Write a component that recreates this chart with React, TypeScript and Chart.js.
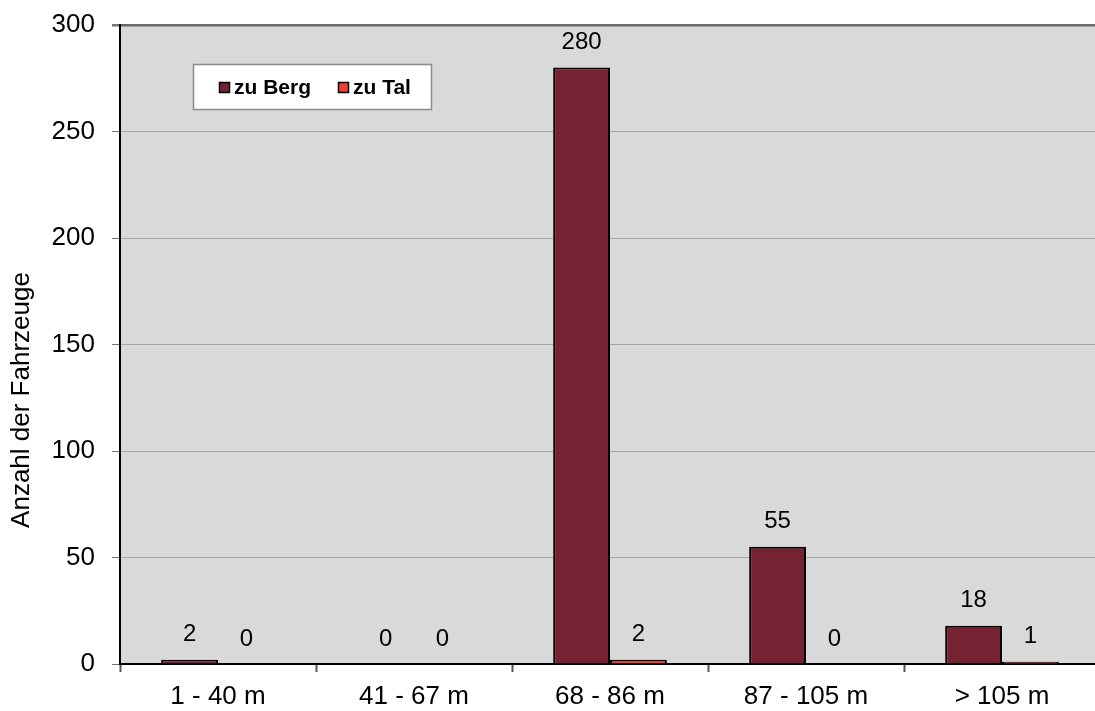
import React, { useEffect, useRef } from "react";
import { Chart, registerables } from "chart.js";

Chart.register(...registerables);

const categories = ["1 - 40 m", "41 - 67 m", "68 - 86 m", "87 - 105 m", "> 105 m"];
const zuBerg = [2, 0, 280, 55, 18];
const zuTal = [0, 0, 2, 0, 1];
const yTicks = [0, 50, 100, 150, 200, 250, 300];

const FONT = '"Liberation Sans", Arial, sans-serif';
const BERG_COLOR = "#762232";
const TAL_COLOR = "#EC4236";
const PLOT_BG = "#D9D9D9";

const plotBackground = {
  id: "plotBackground",
  beforeDraw(chart: any) {
    const { ctx, chartArea } = chart;
    ctx.save();
    ctx.fillStyle = PLOT_BG;
    ctx.fillRect(chartArea.left, chartArea.top, chartArea.right - chartArea.left, chartArea.bottom - chartArea.top);
    ctx.restore();
  },
};

const valueLabels = {
  id: "valueLabels",
  afterDatasetsDraw(chart: any) {
    const { ctx } = chart;
    ctx.save();
    ctx.font = `24px ${FONT}`;
    ctx.fillStyle = "#000";
    ctx.textAlign = "center";
    ctx.textBaseline = "middle";
    chart.data.datasets.forEach((ds: any, i: number) => {
      const meta = chart.getDatasetMeta(i);
      meta.data.forEach((el: any, j: number) => {
        ctx.fillText(String(ds.data[j]), el.x, el.y - 25);
      });
    });
    ctx.restore();
  },
};

const axisTitle = {
  id: "axisTitle",
  afterDraw(chart: any) {
    const { ctx } = chart;
    ctx.save();
    ctx.translate(22, 400);
    ctx.rotate(-Math.PI / 2);
    ctx.font = `26px ${FONT}`;
    ctx.fillStyle = "#000";
    ctx.textAlign = "center";
    ctx.textBaseline = "middle";
    ctx.fillText("Anzahl der Fahrzeuge", 0, 0);
    ctx.restore();
  },
};

const boxLegend = {
  id: "boxLegend",
  afterDraw(chart: any) {
    const { ctx } = chart;
    ctx.save();
    ctx.fillStyle = "#fff";
    ctx.fillRect(193, 64, 239, 46);
    ctx.strokeStyle = "#8a8a8a";
    ctx.lineWidth = 1.5;
    ctx.strokeRect(193.5, 64.5, 238, 45);
    const items = [
      { x: 219, color: BERG_COLOR },
      { x: 338, color: TAL_COLOR },
    ];
    ctx.font = `bold 21px ${FONT}`;
    ctx.textBaseline = "middle";
    ctx.textAlign = "left";
    chart.data.datasets.forEach((ds: any, i: number) => {
      const it = items[i];
      ctx.fillStyle = it.color;
      ctx.fillRect(it.x, 82, 11, 11);
      ctx.strokeStyle = "#000";
      ctx.lineWidth = 1.5;
      ctx.strokeRect(it.x + 0.5, 82.5, 10, 10);
      ctx.fillStyle = "#000";
      ctx.fillText(ds.label, it.x + 15, 88);
    });
    ctx.restore();
  },
};

export default function App() {
  const canvasRef = useRef<HTMLCanvasElement | null>(null);

  useEffect(() => {
    document.body.style.margin = "0";
    const canvas = canvasRef.current;
    if (!canvas) return;
    const chart = new Chart(canvas, {
      type: "bar",
      data: {
        labels: categories,
        datasets: [
          {
            label: "zu Berg",
            data: zuBerg,
            backgroundColor: BERG_COLOR,
            borderColor: "#000",
            borderWidth: (c: any) => (c.raw === 0 ? 0 : 2),
            borderSkipped: "start",
          },
          {
            label: "zu Tal",
            data: zuTal,
            backgroundColor: TAL_COLOR,
            borderColor: "#000",
            borderWidth: (c: any) => (c.raw === 0 ? 0 : 2),
            borderSkipped: "start",
          },
        ],
      },
      options: {
        animation: false,
        responsive: false,
        maintainAspectRatio: false,
        devicePixelRatio: 1,
        layout: { padding: { top: 25, right: 5, left: 0, bottom: 0 } },
        datasets: { bar: { categoryPercentage: 0.58, barPercentage: 1 } },
        plugins: {
          legend: { display: false },
          tooltip: { enabled: false },
        },
        scales: {
          x: {
            offset: true,
            grid: {
              offset: true,
              drawOnChartArea: false,
              drawTicks: true,
              tickLength: 8,
              tickColor: "#555",
              tickWidth: 2,
            },
            border: { display: true, color: "#000", width: 2 },
            ticks: {
              color: "#000",
              font: { family: FONT, size: 26 },
              padding: 9,
              maxRotation: 0,
              autoSkip: false,
            },
            afterFit: (s: any) => {
              s.height = 47;
              s.paddingLeft = 0;
              s.paddingRight = 0;
            },
          },
          y: {
            min: 0,
            max: 300,
            afterBuildTicks: (s: any) => {
              s.ticks = yTicks.map((v) => ({ value: v }));
            },
            grid: {
              color: (c: any) => (c.tick && c.tick.value === 300 ? "#6a6a6a" : "#a6a6a6"),
              lineWidth: (c: any) => (c.tick && c.tick.value === 300 ? 2.5 : 1),
              tickLength: 8,
              tickColor: "#777",
            },
            border: { display: true, color: "#000", width: 2 },
            ticks: {
              color: "#000",
              font: { family: FONT, size: 26 },
              padding: 17,
            },
            afterFit: (s: any) => {
              s.width = 120;
              s.paddingTop = 0;
              s.paddingBottom = 0;
            },
          },
        },
      },
      plugins: [plotBackground, valueLabels, axisTitle, boxLegend],
    });
    return () => chart.destroy();
  }, []);

  return (
    <div style={{ width: 1095, height: 711, overflow: "hidden", position: "relative" }}>
      <canvas ref={canvasRef} width={1105} height={711} style={{ display: "block" }} />
    </div>
  );
}
